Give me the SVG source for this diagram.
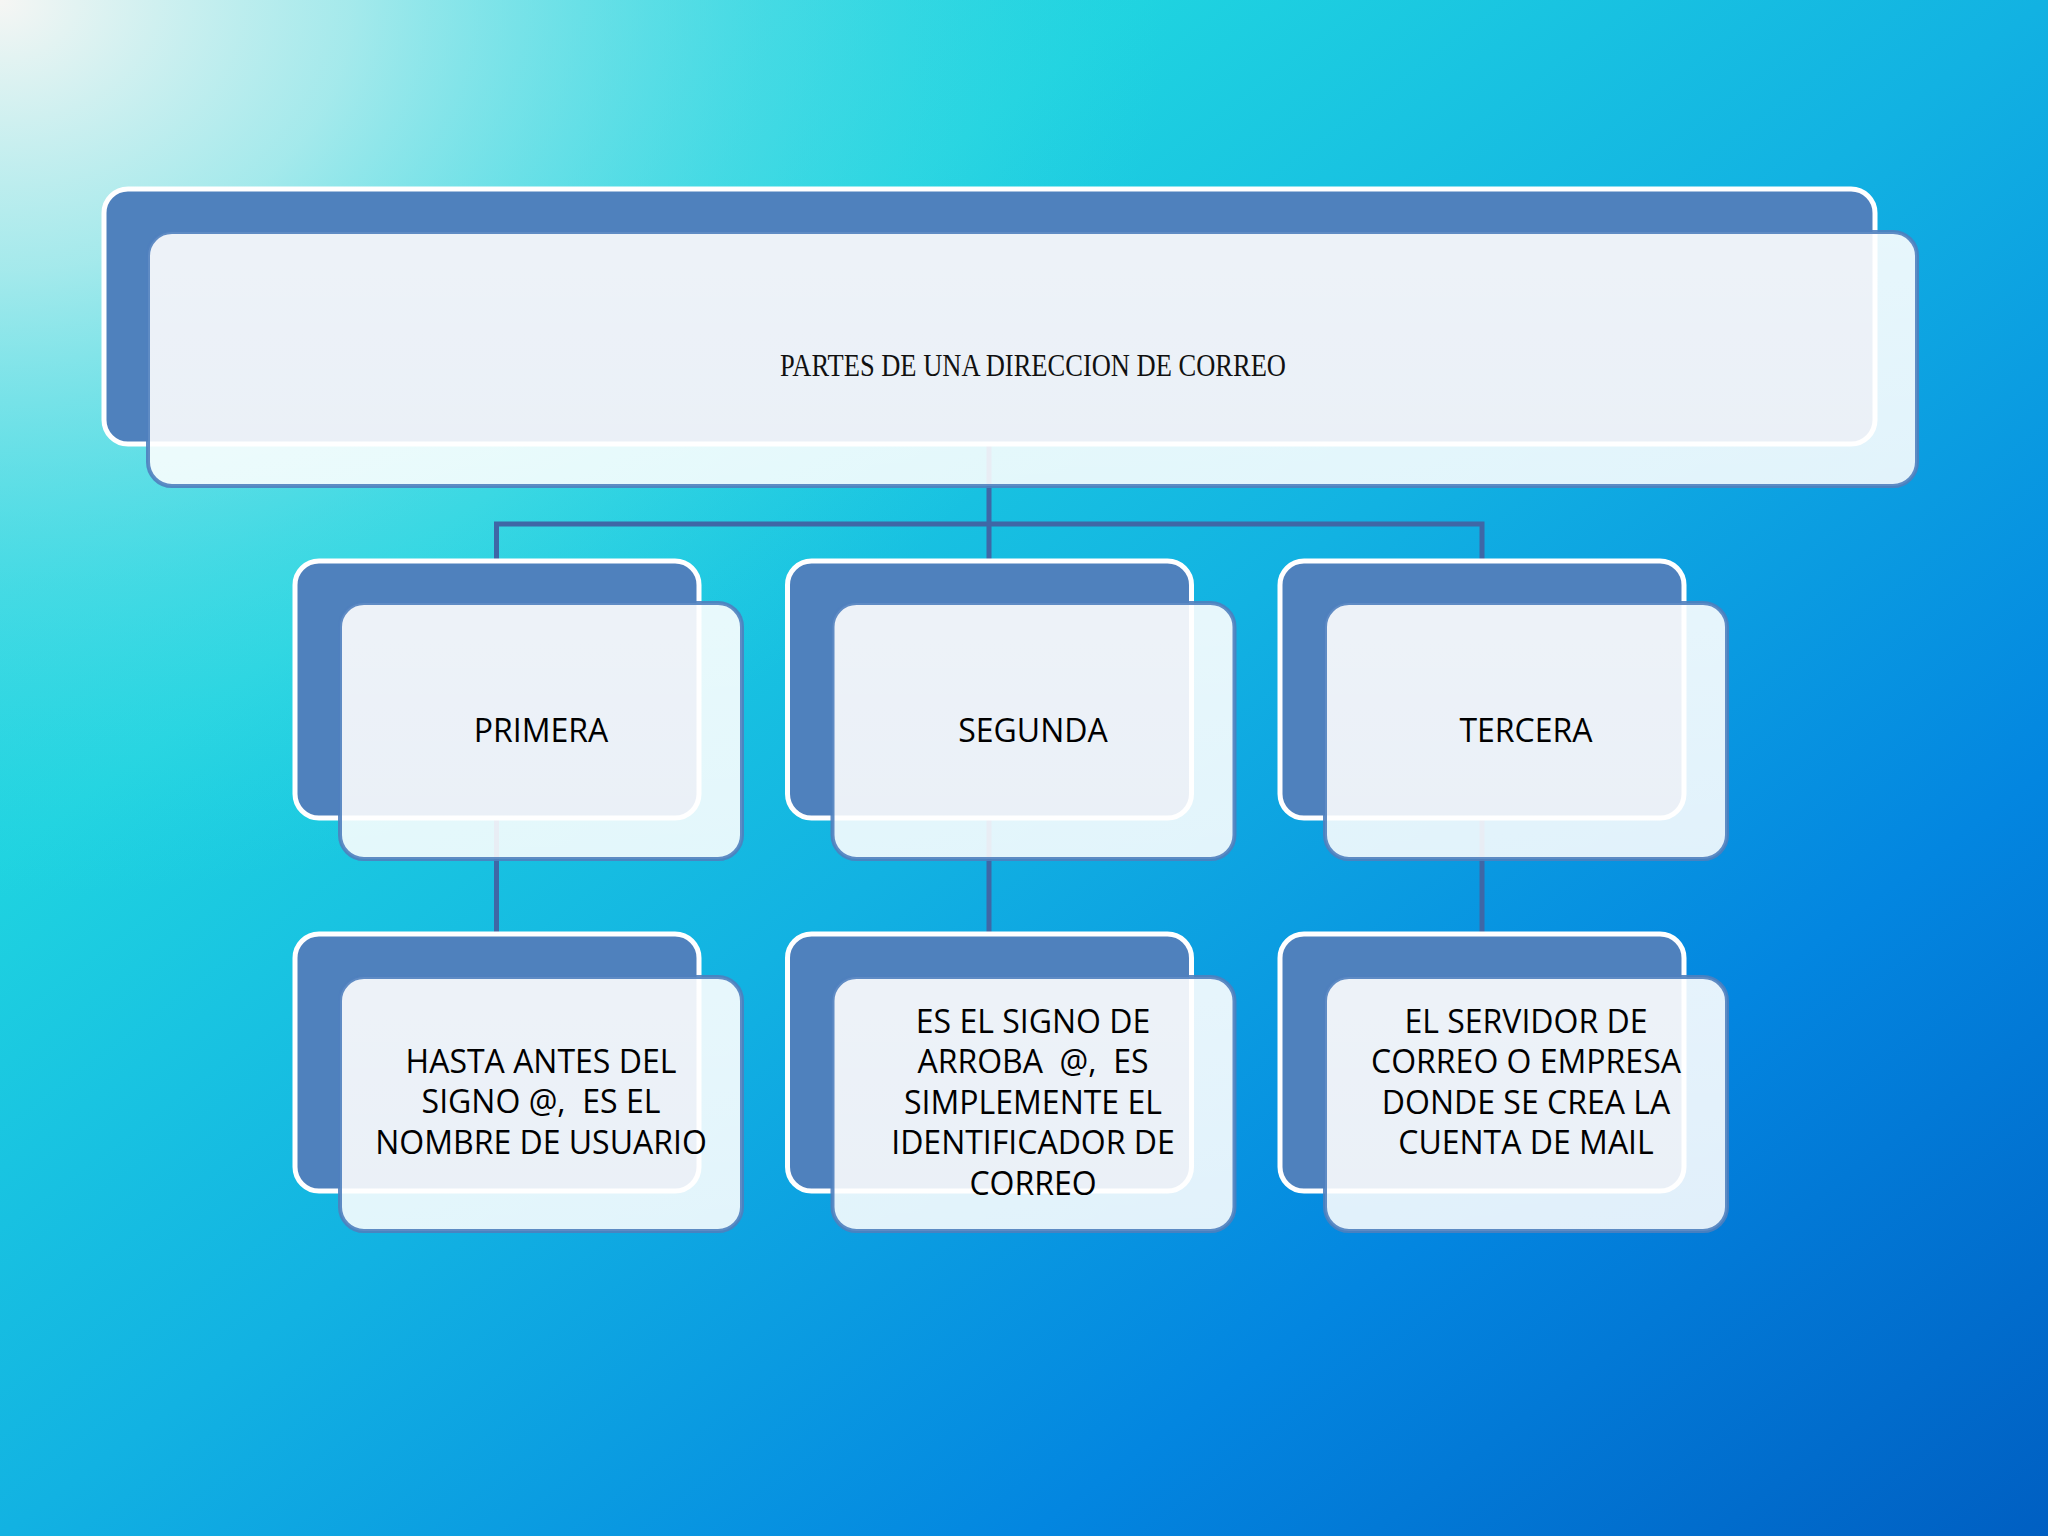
<svg xmlns="http://www.w3.org/2000/svg" width="2048" height="1536" viewBox="0 0 2048 1536">
  <defs>
    <linearGradient id="bg" x1="0" y1="0" x2="1" y2="1">
      <stop offset="0" stop-color="#36D9E2"/>
      <stop offset="0.28" stop-color="#1FD3E0"/>
      <stop offset="0.5" stop-color="#12B2E2"/>
      <stop offset="0.75" stop-color="#0386E0"/>
      <stop offset="1" stop-color="#005FC2"/>
    </linearGradient>
    <radialGradient id="glow" cx="0" cy="0" r="900" gradientUnits="userSpaceOnUse" gradientTransform="translate(0,0) scale(1.3,1)">
      <stop offset="0" stop-color="#F6F6F4" stop-opacity="1"/>
      <stop offset="0.3" stop-color="#C2EEEE" stop-opacity="0.8"/>
      <stop offset="0.65" stop-color="#7FE4EA" stop-opacity="0.35"/>
      <stop offset="1" stop-color="#40DCE6" stop-opacity="0"/>
    </radialGradient>
    <linearGradient id="frontFill" x1="0" y1="0" x2="0" y2="1">
      <stop offset="0" stop-color="#FFFFFF" stop-opacity="0.9"/>
      <stop offset="1" stop-color="#FFFFFF" stop-opacity="0.88"/>
    </linearGradient>
  </defs>
  <style>
    .back { fill: #4F81BD; stroke: #FFFFFF; stroke-width: 5; }
    .front { fill: url(#frontFill); stroke: #4F7FBE; stroke-width: 4; stroke-opacity: 0.9; }
    .conn { stroke: #3F67A6; stroke-width: 5; fill: none; }
    .lbl { font-family: "Open Sans", "Liberation Sans", sans-serif; font-size: 32px; fill: #000000; text-anchor: middle; }
    .title { font-family: "Liberation Serif", "DejaVu Serif", serif; font-size: 31px; fill: #111111; text-anchor: middle; }
  </style>

  <rect x="0" y="0" width="2048" height="1536" fill="url(#bg)"/>
  <rect x="0" y="0" width="2048" height="1536" fill="url(#glow)"/>

  <g id="connectors">
    <path class="conn" d="M989,444 V524 M496.5,561 V524 H1482 V561 M989,524 V561"/>
    <path class="conn" d="M496.5,818 V934"/>
    <path class="conn" d="M989,818 V934"/>
    <path class="conn" d="M1482,818 V934"/>
  </g>

  <g id="node-root">
    <rect class="back" x="104" y="189" width="1771" height="255" rx="24"/>
    <rect class="front" x="148" y="232" width="1769" height="254" rx="24"/>
    <text class="title" x="1033" y="376" textLength="506" lengthAdjust="spacingAndGlyphs">PARTES DE UNA DIRECCION DE CORREO</text>
  </g>

  <g id="node-primera">
    <rect class="back" x="295" y="561" width="404" height="257" rx="24"/>
    <rect class="front" x="340" y="603" width="402" height="256" rx="24"/>
    <text class="lbl" x="541" y="742">PRIMERA</text>
  </g>
  <g id="node-segunda">
    <rect class="back" x="787.5" y="561" width="404" height="257" rx="24"/>
    <rect class="front" x="832.5" y="603" width="402" height="256" rx="24"/>
    <text class="lbl" x="1033" y="742">SEGUNDA</text>
  </g>
  <g id="node-tercera">
    <rect class="back" x="1280" y="561" width="404" height="257" rx="24"/>
    <rect class="front" x="1325" y="603" width="402" height="256" rx="24"/>
    <text class="lbl" x="1526" y="742">TERCERA</text>
  </g>

  <g id="node-usuario">
    <rect class="back" x="295" y="934" width="404" height="257" rx="24"/>
    <rect class="front" x="340" y="977" width="402" height="254" rx="24"/>
    <text class="lbl" x="541" y="1073">HASTA ANTES DEL</text>
    <text class="lbl" x="541" y="1113" xml:space="preserve">SIGNO @,  ES EL</text>
    <text class="lbl" x="541" y="1154">NOMBRE DE USUARIO</text>
  </g>
  <g id="node-arroba">
    <rect class="back" x="787.5" y="934" width="404" height="257" rx="24"/>
    <rect class="front" x="832.5" y="977" width="402" height="254" rx="24"/>
    <text class="lbl" x="1033" y="1033">ES EL SIGNO DE</text>
    <text class="lbl" x="1033" y="1073" xml:space="preserve">ARROBA  @,  ES</text>
    <text class="lbl" x="1033" y="1114">SIMPLEMENTE EL</text>
    <text class="lbl" x="1033" y="1154">IDENTIFICADOR DE</text>
    <text class="lbl" x="1033" y="1195">CORREO</text>
  </g>
  <g id="node-servidor">
    <rect class="back" x="1280" y="934" width="404" height="257" rx="24"/>
    <rect class="front" x="1325" y="977" width="402" height="254" rx="24"/>
    <text class="lbl" x="1526" y="1033">EL SERVIDOR DE</text>
    <text class="lbl" x="1526" y="1073">CORREO O EMPRESA</text>
    <text class="lbl" x="1526" y="1114">DONDE SE CREA LA</text>
    <text class="lbl" x="1526" y="1154">CUENTA DE MAIL</text>
  </g>
</svg>
